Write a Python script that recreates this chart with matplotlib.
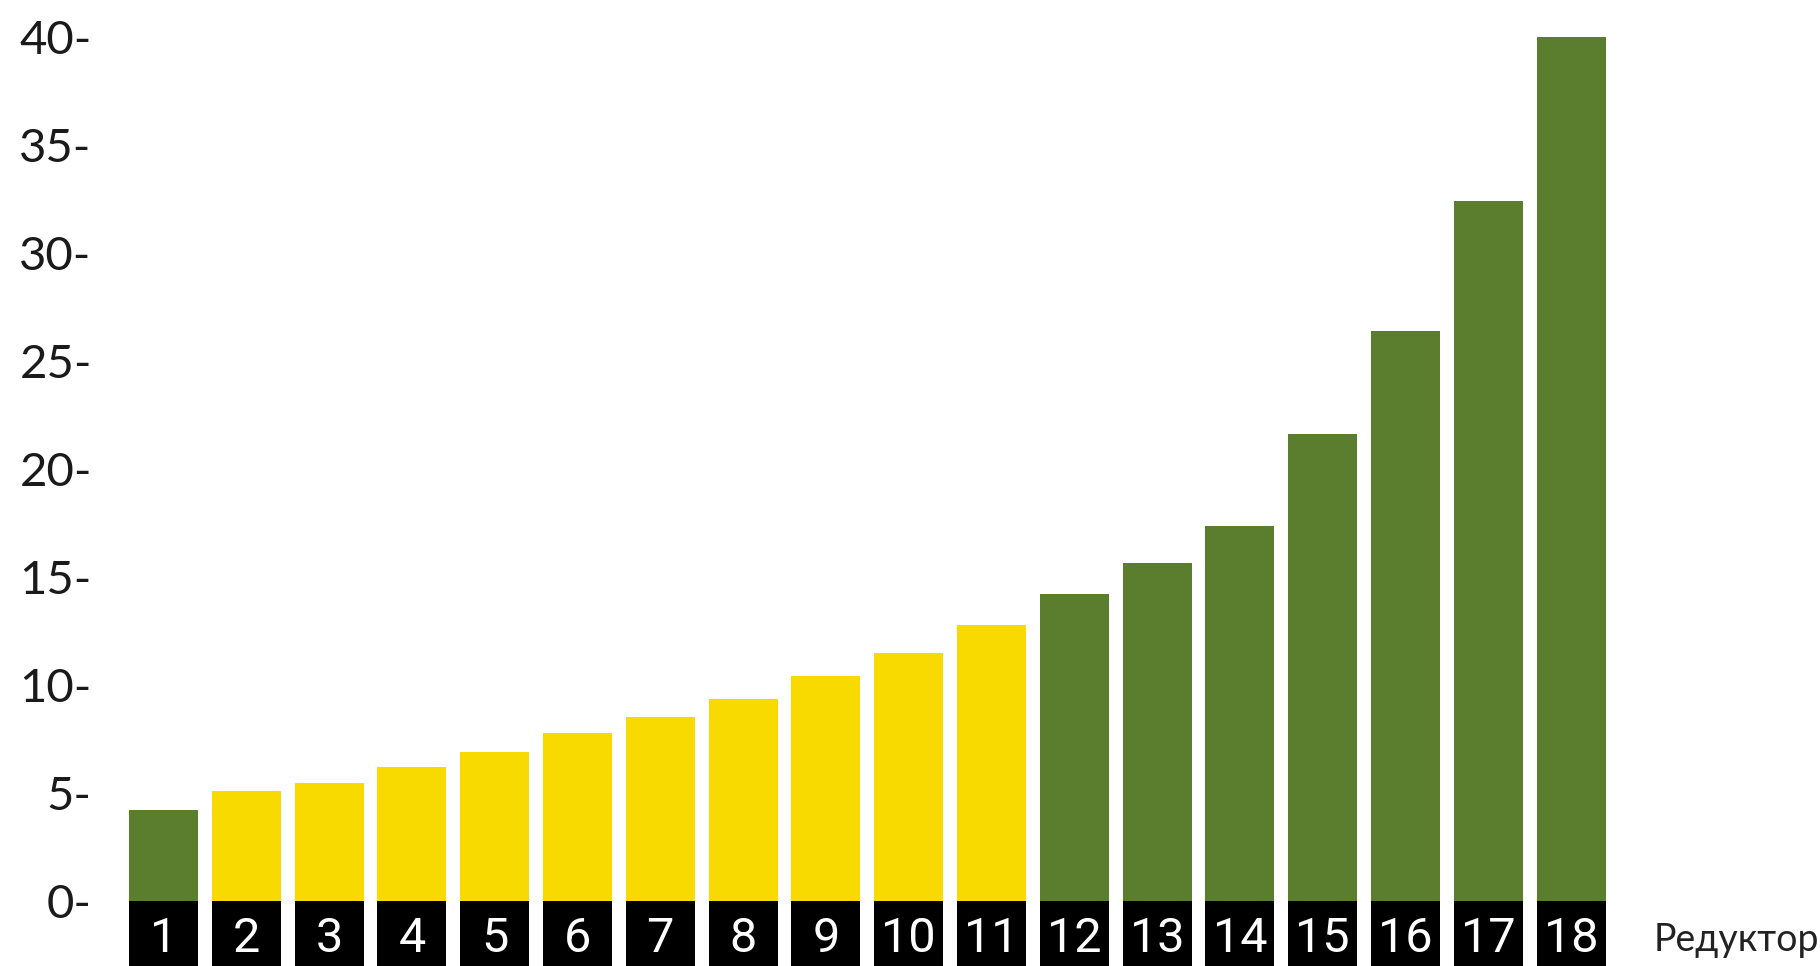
import numpy as np
import matplotlib.pyplot as plt

# reducer numbers and their values
reducers = list(range(1, 19))
values = [4.2, 5.1, 5.45, 6.2, 6.9, 7.8, 8.5, 9.35, 10.4, 11.5, 12.8,
          14.2, 15.65, 17.35, 21.6, 26.4, 32.4, 40.0]
highlight = [False] + [True] * 10 + [False] * 7   # yellow ones
y_ticks = [0, 5, 10, 15, 20, 25, 30, 35, 40]
x_title = "Редуктор"

GREEN = "#5b7d2e"
YELLOW = "#f8d900"

fig = plt.figure(figsize=(18.2, 9.66), dpi=100)
ax = fig.add_axes([100 / 1820, 0, 1720 / 1820, 1])

cols = [YELLOW if h else GREEN for h in highlight]
ax.bar(reducers, values, width=0.833, color=cols, linewidth=0)

# black boxes under the bars for the numbers
box_h = 4
ax.bar(reducers, [box_h] * len(reducers), bottom=-box_h, width=0.833,
       color="black", linewidth=0)
for r in reducers:
    ax.text(r, -1.75, str(r), color="white", ha="center", va="center",
            fontsize=35, family=["Liberation Sans Narrow", "Roboto"])

ax.text(19.0, -1.8, x_title, ha="left", va="center", fontsize=27,
        family="Lato", color="#222222", clip_on=False)

ax.set_xlim(0.233, 21.006)
ax.set_ylim(-3.0, 41.7)
ax.set_yticks(y_ticks)
ax.set_yticklabels([f"{t}-" for t in y_ticks], family="Lato", fontsize=34,
                   color="#1a1a1a")
ax.tick_params(axis="y", length=0, pad=6)
ax.set_xticks([])
for s in ax.spines.values():
    s.set_visible(False)

fig.savefig("out.png", dpi=100)
